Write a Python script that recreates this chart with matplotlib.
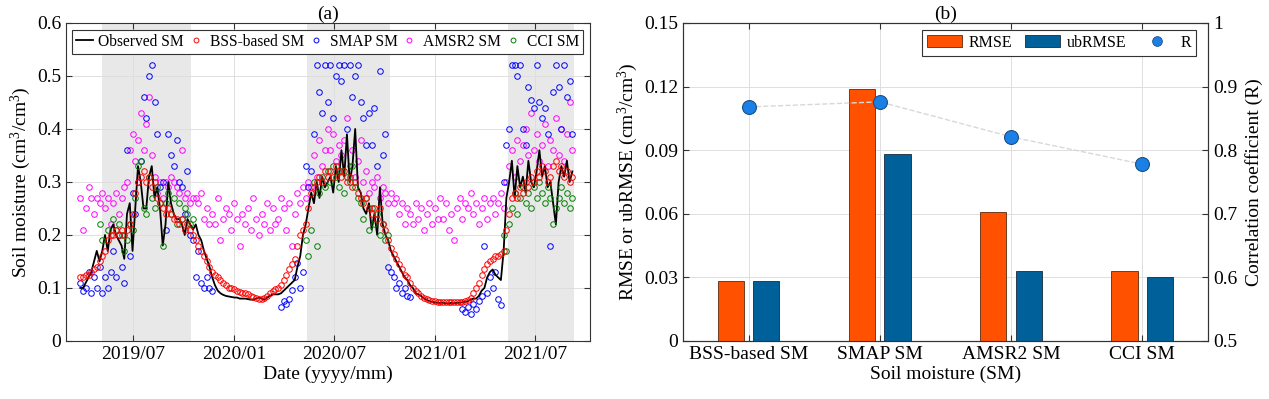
import numpy as np
import pandas as pd
import matplotlib
matplotlib.use("Agg")
import matplotlib.pyplot as plt
from matplotlib.lines import Line2D
from matplotlib.patches import Patch

plt.rcParams["font.family"] = ["Liberation Serif", "DejaVu Serif"]
plt.rcParams["mathtext.fontset"] = "custom"
plt.rcParams["mathtext.rm"] = "Liberation Serif"
plt.rcParams["mathtext.it"] = "Liberation Serif:italic"

# ---- panel (a): time series, one value every 5 days from 2019-03-27 ----
start_date = "2019-03-27"
step_days = 5
nan = np.nan

observed_sm = [
    0.100, 0.100, 0.110, 0.120, 0.130, 0.150,
    0.170, 0.150, 0.170, 0.200, 0.170, 0.210,
    0.220, 0.200, 0.190, 0.180, 0.155, 0.240,
    0.260, 0.170, 0.250, 0.330, 0.300, 0.250,
    0.250, 0.310, 0.330, 0.270, 0.290, 0.250,
    0.180, 0.220, 0.300, 0.260, 0.240, 0.230,
    0.230, 0.220, 0.200, 0.230, 0.220, 0.210,
    0.220, 0.200, 0.190, 0.170, 0.155, 0.140,
    0.120, 0.105, 0.095, 0.090, 0.087, 0.085,
    0.084, 0.083, 0.082, 0.082, 0.080, 0.080,
    0.080, 0.079, 0.078, 0.078, 0.080, 0.082,
    0.080, 0.078, 0.082, 0.085, 0.088, 0.088,
    0.088, 0.090, 0.095, 0.100, 0.105, 0.110,
    0.115, 0.140, 0.160, 0.200, 0.220, 0.250,
    0.280, 0.260, 0.300, 0.270, 0.310, 0.290,
    0.300, 0.310, 0.280, 0.330, 0.300, 0.360,
    0.310, 0.390, 0.300, 0.330, 0.400, 0.290,
    0.280, 0.250, 0.240, 0.260, 0.210, 0.240,
    0.200, 0.290, 0.220, 0.200, 0.190, 0.170,
    0.160, 0.150, 0.140, 0.130, 0.120, 0.115,
    0.105, 0.100, 0.090, 0.088, 0.085, 0.080,
    0.078, 0.075, 0.074, 0.073, 0.072, 0.072,
    0.072, 0.071, 0.071, 0.072, 0.071, 0.072,
    0.072, 0.073, 0.074, 0.075, 0.078, 0.080,
    0.080, 0.085, 0.095, 0.100, 0.120, 0.130,
    0.135, 0.125, 0.120, 0.115, 0.170, 0.270,
    0.300, 0.340, 0.270, 0.330, 0.290, 0.310,
    0.280, 0.340, 0.300, 0.290, 0.320, 0.360,
    0.310, 0.330, 0.290, 0.300, 0.260, 0.220,
    0.300, 0.330, 0.310, 0.340, 0.300, 0.320,
]

bss_sm = [
    0.120, 0.120, 0.125, 0.125, 0.130, 0.135,
    0.140, 0.150, 0.160, 0.170, 0.190, 0.200,
    0.200, 0.210, 0.200, 0.210, 0.200, 0.210,
    0.220, 0.240, 0.280, 0.300, 0.310, 0.320,
    0.300, 0.310, 0.290, 0.300, 0.270, 0.260,
    0.250, 0.240, 0.250, 0.240, 0.230, 0.230,
    0.220, 0.230, 0.210, 0.220, 0.210, 0.200,
    0.190, 0.180, 0.170, 0.160, 0.150, 0.140,
    0.130, 0.125, 0.120, 0.115, 0.110, 0.105,
    0.100, 0.100, 0.098, 0.095, 0.092, 0.090,
    0.090, 0.088, 0.085, 0.083, 0.082, 0.080,
    0.080, 0.082, 0.085, 0.090, 0.095, 0.098,
    0.100, 0.105, 0.115, 0.125, 0.135, 0.145,
    0.155, 0.180, 0.200, 0.210, 0.220, 0.250,
    0.280, 0.290, 0.300, 0.310, 0.300, 0.320,
    0.310, 0.320, 0.310, 0.330, 0.320, 0.310,
    0.320, 0.300, 0.310, 0.290, 0.300, 0.280,
    0.270, 0.260, 0.270, 0.250, 0.240, 0.250,
    0.230, 0.250, 0.220, 0.210, 0.190, 0.175,
    0.165, 0.155, 0.145, 0.135, 0.125, 0.120,
    0.110, 0.100, 0.095, 0.090, 0.085, 0.082,
    0.080, 0.078, 0.076, 0.075, 0.074, 0.074,
    0.074, 0.073, 0.073, 0.074, 0.073, 0.074,
    0.074, 0.074, 0.075, 0.078, 0.082, 0.090,
    0.100, 0.110, 0.125, 0.135, 0.145, 0.150,
    0.155, 0.160, 0.160, 0.165, 0.170, 0.210,
    0.240, 0.270, 0.280, 0.270, 0.290, 0.280,
    0.300, 0.290, 0.310, 0.300, 0.320, 0.310,
    0.330, 0.320, 0.300, 0.310, 0.330, 0.340,
    0.320, 0.330, 0.310, 0.320, 0.300, 0.310,
]

smap_sm = [
    0.110, 0.095, 0.100, 0.130, 0.090, 0.120,
    0.100, 0.140, 0.090, 0.120, 0.100, 0.130,
    0.170, 0.120, 0.200, 0.140, 0.110, 0.360,
    0.160, 0.280, 0.240, 0.300, 0.340, 0.460,
    0.420, 0.500, 0.520, 0.450, 0.390, 0.290,
    0.300, 0.210, 0.390, 0.350, 0.330, 0.380,
    0.300, 0.290, 0.240, 0.320, 0.200, 0.190,
    0.120, 0.170, 0.110, 0.100, 0.120, 0.100,
    0.095, nan, nan, nan, nan, nan,
    nan, nan, nan, nan, nan, nan,
    nan, nan, nan, nan, nan, nan,
    nan, nan, nan, nan, nan, nan,
    nan, 0.065, 0.075, 0.070, 0.080, 0.096,
    0.120, 0.147, 0.100, 0.130, 0.330, 0.290,
    0.320, 0.390, 0.520, 0.470, 0.430, 0.520,
    0.450, 0.520, 0.420, 0.500, 0.520, 0.490,
    0.520, 0.400, 0.520, 0.460, 0.500, 0.520,
    0.450, 0.420, 0.370, 0.430, 0.370, 0.440,
    0.330, 0.510, 0.350, 0.390, 0.140, 0.130,
    0.120, 0.100, 0.110, 0.090, 0.100, 0.085,
    0.083, nan, nan, nan, nan, nan,
    nan, nan, nan, nan, nan, nan,
    nan, nan, nan, nan, nan, nan,
    nan, 0.060, 0.055, 0.065, 0.050, 0.070,
    0.060, 0.075, 0.085, 0.180, 0.090, 0.120,
    0.100, 0.130, 0.080, 0.068, 0.300, 0.370,
    0.400, 0.520, 0.520, 0.500, 0.520, 0.400,
    0.370, 0.480, 0.455, 0.440, 0.520, 0.450,
    0.420, 0.440, 0.390, 0.180, 0.470, 0.520,
    0.480, 0.400, 0.520, 0.460, 0.490, 0.390,
]

amsr2_sm = [
    0.270, 0.210, 0.250, 0.290, 0.270, 0.240,
    0.270, 0.260, 0.280, 0.250, 0.270, 0.220,
    0.260, 0.280, 0.240, 0.270, 0.290, 0.300,
    0.360, 0.390, 0.340, 0.380, 0.430, 0.360,
    0.410, 0.460, 0.350, 0.310, 0.280, 0.300,
    0.270, 0.300, 0.290, 0.310, 0.300, 0.290,
    0.280, 0.360, 0.270, 0.280, 0.260, 0.270,
    0.270, 0.260, 0.280, 0.230, 0.250, 0.220,
    0.240, 0.220, 0.270, 0.190, 0.230, 0.250,
    0.240, 0.210, 0.260, 0.230, 0.180, 0.240,
    0.220, 0.250, 0.210, 0.270, 0.230, 0.200,
    0.240, 0.220, 0.260, 0.210, 0.250, 0.220,
    0.230, 0.270, 0.250, 0.210, 0.260, 0.180,
    0.240, 0.280, 0.260, 0.290, 0.270, 0.300,
    0.290, 0.350, 0.310, 0.380, 0.330, 0.360,
    0.400, 0.360, 0.390, 0.340, 0.370, 0.350,
    0.380, 0.420, 0.330, 0.360, 0.310, 0.340,
    0.380, 0.300, 0.320, 0.280, 0.300, 0.290,
    0.310, 0.270, 0.290, 0.280, 0.260, 0.280,
    0.260, 0.270, 0.240, 0.260, 0.220, 0.250,
    0.240, 0.220, 0.260, 0.230, 0.250, 0.210,
    0.240, 0.260, 0.220, 0.250, 0.230, 0.270,
    0.230, 0.260, 0.210, 0.240, 0.190, 0.250,
    0.270, 0.230, 0.260, 0.250, 0.280, 0.240,
    0.260, 0.220, 0.250, 0.270, 0.230, 0.260,
    0.270, 0.240, 0.260, 0.280, 0.250, 0.300,
    0.330, 0.360, 0.310, 0.380, 0.340, 0.370,
    0.400, 0.350, 0.430, 0.360, 0.390, 0.340,
    0.370, 0.410, 0.330, 0.380, 0.360, 0.420,
    0.350, 0.400, 0.340, 0.390, 0.450, 0.360,
]

cci_sm = [
    nan, nan, nan, nan, nan, nan,
    nan, 0.220, 0.190, nan, 0.210, nan,
    0.230, 0.210, 0.220, 0.200, 0.170, 0.190,
    0.220, 0.210, 0.270, 0.330, 0.340, 0.250,
    0.240, 0.310, 0.270, 0.250, 0.290, 0.260,
    0.180, 0.260, 0.280, 0.240, 0.270, 0.220,
    0.260, 0.230, 0.250, 0.240, 0.220, 0.230,
    nan, nan, nan, nan, nan, nan,
    nan, nan, nan, nan, nan, nan,
    nan, nan, nan, nan, nan, nan,
    nan, nan, nan, nan, nan, nan,
    nan, nan, nan, nan, nan, nan,
    nan, nan, nan, nan, nan, nan,
    nan, nan, nan, nan, 0.190, 0.160,
    0.210, 0.300, 0.180, 0.280, 0.310, 0.290,
    0.320, 0.300, 0.330, 0.310, 0.290, 0.320,
    0.280, 0.310, 0.300, 0.330, 0.290, 0.270,
    0.260, 0.230, 0.270, 0.210, 0.250, 0.220,
    0.240, 0.200, 0.220, 0.190, 0.200, nan,
    nan, nan, nan, nan, nan, nan,
    nan, nan, nan, nan, nan, nan,
    nan, nan, nan, nan, nan, nan,
    nan, nan, nan, nan, nan, nan,
    nan, nan, nan, nan, nan, nan,
    nan, nan, nan, nan, nan, nan,
    nan, nan, nan, nan, 0.200, 0.170,
    0.220, 0.250, 0.280, 0.240, 0.270, 0.290,
    0.260, 0.280, 0.250, 0.290, 0.270, 0.300,
    0.280, 0.260, 0.290, 0.270, 0.220, 0.250,
    0.270, 0.290, 0.260, 0.280, 0.250, 0.270,
]

# growing-season shading
shade_starts = ["2019-05-06", "2020-05-13", "2021-05-13"]
shade_ends = ["2019-10-14", "2020-10-11", "2021-09-10"]
date_ticks = ["2019-07-01", "2020-01-01", "2020-07-01", "2021-01-01", "2021-07-01"]

# ---- panel (b): error metrics ----
products = ["BSS-based SM", "SMAP SM", "AMSR2 SM", "CCI SM"]
rmse = [0.0283, 0.119, 0.0608, 0.033]
ubrmse = [0.0282, 0.0882, 0.033, 0.030]
corr_r = [0.868, 0.876, 0.821, 0.778]

dates = pd.date_range(start_date, periods=len(observed_sm), freq=f"{step_days}D")

fig = plt.figure(figsize=(12.69, 3.99), dpi=100)
ax_a = fig.add_axes([0.052, 0.1454, 0.4129, 0.797])
ax_b = fig.add_axes([0.5382, 0.1454, 0.4137, 0.797])

spine_col = "#333333"
grid_col = "#dedede"
fs = 14

for s, e in zip(shade_starts, shade_ends):
    ax_a.axvspan(pd.Timestamp(s), pd.Timestamp(e), color="#e8e8e8", zorder=0, lw=0)

mk = dict(linestyle="none", marker="o", markersize=4, markerfacecolor="none", markeredgewidth=0.7)
ax_a.plot(dates, amsr2_sm, markeredgecolor="#ff00ff", zorder=2, **mk)
ax_a.plot(dates, smap_sm, markeredgecolor="#0000ff", zorder=2, **mk)
ax_a.plot(dates, observed_sm, color="black", lw=1.3, zorder=3)
ax_a.plot(dates, cci_sm, markeredgecolor="#008000", zorder=4, **mk)
ax_a.plot(dates, bss_sm, markeredgecolor="#ff0000", zorder=5, **mk)

ax_a.set_xlim(pd.Timestamp("2019-03-01"), pd.Timestamp("2021-10-09"))
ax_a.set_ylim(0, 0.6)
ax_a.set_xticks([pd.Timestamp(d) for d in date_ticks])
ax_a.set_xticklabels([pd.Timestamp(d).strftime("%Y/%m") for d in date_ticks])
ax_a.set_yticks(np.arange(0, 0.61, 0.1))
ax_a.set_yticklabels(["0", "0.1", "0.2", "0.3", "0.4", "0.5", "0.6"])
ax_a.grid(True, color=grid_col, lw=0.7, zorder=1)
ax_a.set_axisbelow(True)
ax_a.set_xlabel("Date (yyyy/mm)", fontsize=fs, labelpad=2)
ax_a.set_ylabel("Soil moisture (cm$^3$/cm$^3$)", fontsize=fs, labelpad=3)
ax_a.set_title("(a)", fontsize=fs, pad=3)
ax_a.tick_params(direction="in", top=True, right=True, labelsize=fs, length=4, color=spine_col)

mk_leg = dict(mk, markersize=3.5)
handles_a = [
    Line2D([], [], color="black", lw=1.3),
    Line2D([], [], markeredgecolor="#ff0000", **mk_leg),
    Line2D([], [], markeredgecolor="#0000ff", **mk_leg),
    Line2D([], [], markeredgecolor="#ff00ff", **mk_leg),
    Line2D([], [], markeredgecolor="#008000", **mk_leg),
]
labels_a = ["Observed SM", "BSS-based SM", "SMAP SM", "AMSR2 SM", "CCI SM"]
leg_a = ax_a.legend(handles_a, labels_a, ncol=5, loc="upper left", bbox_to_anchor=(0.0115, 0.978, 0.975, 0),
                    mode="expand", fontsize=11.2, handlelength=1.1, handletextpad=0.35, columnspacing=0.5,
                    borderpad=0.25, fancybox=False, framealpha=1, edgecolor=spine_col, borderaxespad=0)
leg_a.get_frame().set_linewidth(0.8)
leg_a.set_zorder(10)

# ---- panel (b) ----
x = np.arange(1, len(products) + 1)
bw = 0.2
off = 0.135
ax_b.bar(x - off, rmse, bw, color="#ff5100", edgecolor="#5a2a10", lw=0.6, zorder=3)
ax_b.bar(x + off, ubrmse, bw, color="#00609a", edgecolor="#1a2a3a", lw=0.6, zorder=3)
ax_b.set_xlim(0.5, 4.5)
ax_b.set_ylim(0, 0.15)
ax_b.set_xticks(x)
ax_b.set_xticklabels(products)
ax_b.set_yticks([0, 0.03, 0.06, 0.09, 0.12, 0.15])
ax_b.set_yticklabels(["0", "0.03", "0.06", "0.09", "0.12", "0.15"])
ax_b.grid(True, color=grid_col, lw=0.7)
ax_b.set_axisbelow(True)
ax_b.set_xlabel("Soil moisture (SM)", fontsize=fs, labelpad=2)
ax_b.set_ylabel("RMSE or ubRMSE (cm$^3$/cm$^3$)", fontsize=fs, labelpad=3)
ax_b.set_title("(b)", fontsize=fs, pad=3)
ax_b.tick_params(direction="in", top=True, labelsize=fs, length=4, color=spine_col)

ax_r = ax_b.twinx()
ax_r.plot(x, corr_r, ls="--", color="#d8d8d8", lw=1.0, zorder=4)
ax_r.plot(x, corr_r, ls="none", marker="o", markersize=10, markerfacecolor="#1a80e6",
          markeredgecolor="#1f4f80", markeredgewidth=0.8, zorder=5)
ax_r.set_ylim(0.5, 1.0)
ax_r.set_yticks([0.5, 0.6, 0.7, 0.8, 0.9, 1.0])
ax_r.set_yticklabels(["0.5", "0.6", "0.7", "0.8", "0.9", "1"])
ax_r.set_ylabel("Correlation coefficient (R)", fontsize=fs, labelpad=6)
ax_r.tick_params(direction="in", labelsize=fs, length=4, color=spine_col)

handles_b = [
    Patch(facecolor="#ff5100", edgecolor="#5a2a10", lw=0.6),
    Patch(facecolor="#00609a", edgecolor="#1a2a3a", lw=0.6),
    Line2D([], [], ls="none", marker="o", markersize=7, markerfacecolor="#1a80e6",
           markeredgecolor="#1f4f80", markeredgewidth=0.6),
]
leg_b = ax_r.legend(handles_b, ["RMSE", "ubRMSE", "R"], ncol=3, loc="upper left",
                    bbox_to_anchor=(0.455, 0.978, 0.522, 0), mode="expand", fontsize=11.5,
                    handlelength=2.2, handleheight=0.8, handletextpad=0.4, columnspacing=0.8,
                    borderpad=0.3, fancybox=False, framealpha=1, edgecolor=spine_col, borderaxespad=0)
leg_b.get_frame().set_linewidth(0.8)

for ax in (ax_a, ax_b, ax_r):
    for sp in ax.spines.values():
        sp.set_color(spine_col)
        sp.set_linewidth(0.8)

fig.savefig("out.png", dpi=100)
